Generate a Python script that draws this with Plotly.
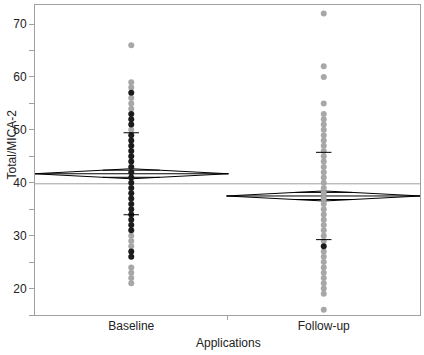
import plotly.graph_objects as go
import math

# ---- data ----
categories = ["Baseline", "Follow-up"]

baseline_gray = [66, 59, 58, 56, 55, 54, 50, 30, 29, 28, 24, 23, 22, 21]
baseline_dark = [57, 53, 52, 51, 49, 48, 47, 46, 45, 44, 43, 42, 41, 40, 39,
                 38, 37, 36, 35, 34, 33, 32, 31, 27, 26]
followup_gray = [72, 62, 60, 55, 53, 52, 51, 50, 49, 48, 47, 46, 45, 44, 43,
                 42, 41, 40, 39, 38, 37, 36, 35, 34, 33, 32, 31, 30, 29, 27,
                 26, 25, 24, 23, 22, 21, 20, 19, 16]
followup_dark = [28]

group_means = [41.7, 37.5]
group_sd = [7.75, 8.25]
group_ci = [0.95, 0.95]
grand_mean = 39.8

y_ticks = [20, 30, 40, 50, 60, 70]

GRAY = "#a7a7a7"
DARK = "#1c1c1c"
FRAME = "#a0a0a0"
FONT = "Liberation Sans, Arial, sans-serif"

fig = go.Figure()

# grand mean line
fig.add_trace(go.Scatter(x=[-0.5, 1.5], y=[grand_mean, grand_mean], mode="lines",
                         line=dict(color=FRAME, width=1), hoverinfo="skip"))

# means diamonds
half_w = 0.505
for i, (m, ci) in enumerate(zip(group_means, group_ci)):
    fig.add_trace(go.Scatter(
        x=[i - half_w, i, i + half_w, i, i - half_w],
        y=[m, m + ci, m, m - ci, m],
        mode="lines", line=dict(color="black", width=1), hoverinfo="skip"))
    fig.add_trace(go.Scatter(x=[i - half_w, i + half_w], y=[m, m], mode="lines",
                             line=dict(color="black", width=1), hoverinfo="skip"))
    ov = ci / math.sqrt(2)
    ow = half_w * (1 - 1 / math.sqrt(2))
    for s in (1, -1):
        fig.add_trace(go.Scatter(x=[i - ow, i + ow], y=[m + s * ov, m + s * ov],
                                 mode="lines", line=dict(color="black", width=1),
                                 hoverinfo="skip"))

# points
def pts(xpos, vals, color):
    fig.add_trace(go.Scatter(x=[xpos] * len(vals), y=vals, mode="markers",
                             marker=dict(color=color, size=6, line=dict(width=0))))

pts(0, baseline_gray, GRAY)
pts(0, baseline_dark, DARK)
pts(1, followup_gray, GRAY)
pts(1, followup_dark, DARK)

# std dev lines
sd_w = 0.04
for i, (m, sd) in enumerate(zip(group_means, group_sd)):
    for s in (1, -1):
        fig.add_trace(go.Scatter(x=[i - sd_w, i + sd_w], y=[m + s * sd, m + s * sd],
                                 mode="lines", line=dict(color="black", width=1),
                                 hoverinfo="skip"))

fig.update_layout(
    width=424, height=355,
    margin=dict(l=35, r=4, t=5, b=40),
    plot_bgcolor="white", paper_bgcolor="white",
    showlegend=False,
    font=dict(family=FONT, size=12, color="#222222"),
    xaxis=dict(range=[-0.5, 1.5], tickvals=[0, 1], ticktext=categories,
               ticks="", showgrid=False, zeroline=False,
               showline=True, linecolor=FRAME, linewidth=1, mirror=True,
               tickfont=dict(family=FONT, size=12, color="#222222")),
    yaxis=dict(range=[15, 73.6], tickvals=y_ticks, ticks="outside", ticklen=5,
               tickcolor=FRAME, tickwidth=1,
               minor=dict(dtick=5, tick0=0, ticks="outside", ticklen=5,
                          tickcolor=FRAME, tickwidth=1, showgrid=False),
               showgrid=False, zeroline=False,
               showline=True, linecolor=FRAME, linewidth=1, mirror=True,
               tickfont=dict(family=FONT, size=12, color="#222222")),
    shapes=[dict(type="line", xref="x", yref="paper", x0=0.5, x1=0.5,
                 y0=0, y1=-0.016, line=dict(color=FRAME, width=1))],
    annotations=[
        dict(text="Total/MICA-2", xref="paper", yref="paper", x=-0.06, y=0.55,
             textangle=-90, showarrow=False, xanchor="center", yanchor="middle",
             font=dict(family=FONT, size=12, color="#222222")),
        dict(text="Applications", xref="paper", yref="paper", x=0.503, y=-0.09,
             showarrow=False, xanchor="center", yanchor="middle",
             font=dict(family=FONT, size=12, color="#222222")),
    ],
)

fig.write_html("out.html",
               config={"displayModeBar": False},
               post_script="document.body.style.margin='0';document.body.style.overflow='hidden';")
